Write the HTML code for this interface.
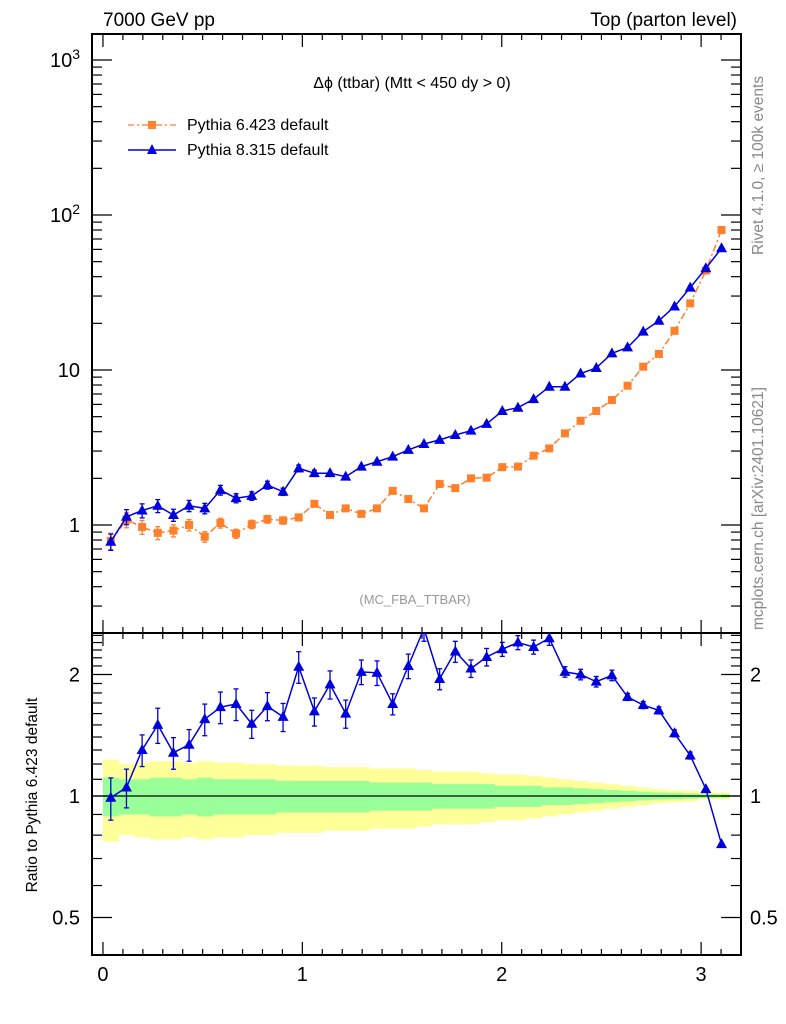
<!DOCTYPE html>
<html><head><meta charset="utf-8">
<style>
html,body{margin:0;padding:0;background:#fff;}
svg{display:block;font-family:"Liberation Sans",sans-serif;}
</style></head>
<body>
<svg id="chart" width="786" height="1024" viewBox="0 0 786 1024" xmlns="http://www.w3.org/2000/svg">
<text x="103" y="26" font-size="19">7000 GeV pp</text>
<text x="737" y="26" font-size="19" text-anchor="end">Top (parton level)</text>
<text x="412" y="88" font-size="16" text-anchor="middle">Δϕ (ttbar) (Mtt &lt; 450 dy &gt; 0)</text>
<text x="415" y="604" font-size="13" fill="#999" text-anchor="middle">(MC_FBA_TTBAR)</text>
<text transform="translate(763,255) rotate(-90)" font-size="15.5" fill="#888">Rivet 4.1.0, ≥ 100k events</text>
<text transform="translate(763,630) rotate(-90)" font-size="15.5" fill="#888">mcplots.cern.ch [arXiv:2401.10621]</text>
<text transform="translate(37,795) rotate(-90)" font-size="15.5" text-anchor="middle">Ratio to Pythia 6.423 default</text>
<g id="legend">
<g>
<line x1="128" y1="125" x2="176" y2="125" stroke="#ff7f2a" stroke-width="1.3" stroke-dasharray="6,3,2,3"/>
<rect x="148" y="121" width="8" height="8" fill="#ff8533"/>
<text x="187" y="130" font-size="16">Pythia 6.423 default</text></g>
<g>
<line x1="128" y1="150" x2="176" y2="150" stroke="#0000dd" stroke-width="1.5"/>
<polygon points="152,144 157,154 147,154" fill="#0000dd"/>
<text x="187" y="155" font-size="16">Pythia 8.315 default</text></g>
</g>
<g id="main"></g>
<g id="ratio"></g>
</svg>
<script>
const nbins = [40];
const pythia6 = [0.79,1.08,0.97,0.89,0.92,1.0,0.84,1.03,0.88,1.01,1.09,1.07,1.12,1.37,1.16,1.28,1.18,1.28,1.66,1.47,1.28,1.84,1.73,2.0,2.02,2.36,2.38,2.80,3.12,3.90,4.70,5.44,6.40,7.92,10.5,12.7,17.9,26.9,43.8,80];
const pythia8 = [0.78,1.13,1.24,1.33,1.16,1.33,1.28,1.68,1.49,1.54,1.81,1.64,2.32,2.16,2.16,2.05,2.38,2.56,2.76,3.05,3.33,3.54,3.81,4.06,4.49,5.44,5.71,6.49,7.8,7.8,9.5,10.3,12.8,14.0,17.7,20.8,25.7,34.0,45.3,61];
const ratioVals = [0.99,1.05,1.30,1.50,1.28,1.34,1.55,1.66,1.69,1.51,1.67,1.57,2.09,1.62,1.89,1.60,2.03,2.02,1.69,2.10,2.6,1.95,2.28,2.07,2.21,2.31,2.40,2.34,2.46,2.03,2.0,1.92,1.99,1.76,1.68,1.63,1.43,1.26,1.04,0.76];
const ratioErr = [0.12,0.11,0.09,0.10,0.09,0.09,0.09,0.09,0.09,0.08,0.08,0.08,0.09,0.08,0.08,0.08,0.07,0.07,0.06,0.07,0.07,0.06,0.06,0.05,0.05,0.04,0.04,0.04,0.04,0.03,0.03,0.03,0.03,0.02,0.02,0.02,0.02,0.02,0.01,0.01];
const bandYellow = [0.23,0.20,0.21,0.22,0.22,0.21,0.22,0.21,0.21,0.20,0.20,0.19,0.19,0.19,0.18,0.18,0.18,0.17,0.17,0.17,0.16,0.15,0.15,0.15,0.14,0.13,0.13,0.12,0.11,0.10,0.09,0.08,0.07,0.06,0.05,0.04,0.035,0.03,0.02,0.02];
const bandGreen = [0.11,0.10,0.10,0.11,0.11,0.10,0.11,0.10,0.10,0.10,0.10,0.09,0.09,0.09,0.09,0.09,0.09,0.08,0.08,0.08,0.08,0.07,0.07,0.07,0.07,0.06,0.06,0.06,0.05,0.05,0.045,0.04,0.035,0.03,0.025,0.02,0.018,0.015,0.012,0.01];
const xTicks = ["0","1","2","3"];
const mainTicks = ["1","10","10²","10³"];

const NS="http://www.w3.org/2000/svg";
const X0=92, X1=741, xmin=-0.055, xmax=3.2;
const MT=34, MB=633, RT=633, RB=955;
function xs(v){return X0+(v-xmin)/(xmax-xmin)*(X1-X0);}
function ym(v){return 525-155*Math.log10(v);}
function yr(v){return 796-121.5*Math.log2(v);}
function el(tag,attrs,parent){const e=document.createElementNS(NS,tag);for(const k in attrs)e.setAttribute(k,attrs[k]);parent.appendChild(e);return e;}
const main=document.getElementById('main'), ratio=document.getElementById('ratio');
const N=nbins[0], w=Math.PI/N;
const cx=i=>(i+0.5)*w;

const clipR=el('clipPath',{id:'cr'},ratio); el('rect',{x:X0,y:RT,width:X1-X0,height:RB-RT},clipR);
const bands=el('g',{'clip-path':'url(#cr)'},ratio);
[[bandYellow,'#ffff99'],[bandGreen,'#99ff99']].forEach(([arr,col],k)=>{
  arr.forEach((b,i)=>{
    const r=el('rect',{x:xs(i*w),y:yr(1+b),width:xs((i+1)*w)-xs(i*w)+0.5,height:yr(1-b)-yr(1+b),fill:col},bands);
    
    
  });
});
el('line',{x1:X0,x2:X1,y1:yr(1),y2:yr(1),stroke:'#000','stroke-width':1.2},ratio);

[[MT,MB],[RT,RB]].forEach(([t,b],k)=>{
  const f=el('rect',{x:X0,y:t,width:X1-X0,height:b-t,fill:'none',stroke:'#000','stroke-width':2},k?ratio:main);
  
  
});
[[MT,MB,main],[RT,RB,ratio]].forEach(([t,b,g])=>{
  for(let v=0;v<=3.2;v+=0.1){
    const major=Math.abs(v-Math.round(v))<1e-6, L=major?13:6;
    const px=xs(v); if(px>X1-1)continue;
    el('line',{x1:px,x2:px,y1:b,y2:b-L,stroke:'#000','stroke-width':1.2},g);
    el('line',{x1:px,x2:px,y1:t,y2:t+L,stroke:'#000','stroke-width':1.2},g);
  }
});
xTicks.forEach((s,i)=>{
  const t=el('text',{x:xs(+s),y:981,'font-size':20,'text-anchor':'middle'},ratio);t.textContent=s;
  
  
});
for(let d=-1;d<=3;d++){for(let m=1;m<10;m++){
  const v=m*Math.pow(10,d), y=ym(v); if(y<MT||y>MB)continue;
  const L=m==1?20:10;
  el('line',{x1:X0,x2:X0+L,y1:y,y2:y,stroke:'#000','stroke-width':1.2},main);
  el('line',{x1:X1,x2:X1-L,y1:y,y2:y,stroke:'#000','stroke-width':1.2},main);
}}
mainTicks.forEach((s,i)=>{
  const t=el('text',{x:80,y:ym(Math.pow(10,i))+7,'font-size':20,'text-anchor':'end'},main);
  if(i<2)t.textContent=s;else{t.textContent='10';const ts=el('tspan',{dy:-8,'font-size':14},t);ts.textContent=String(i);}
  
  
});
for(let v=0.4;v<=2.6;v+=0.1){
  const y=yr(v); if(y<RT||y>RB)continue;
  const major=[0.5,1,2].some(q=>Math.abs(q-v)<1e-6), L=major?20:10;
  el('line',{x1:X0,x2:X0+L,y1:y,y2:y,stroke:'#000','stroke-width':1.2},ratio);
  el('line',{x1:X1,x2:X1-L,y1:y,y2:y,stroke:'#000','stroke-width':1.2},ratio);
}
[['2',2],['1',1],['0.5',0.5]].forEach(([s,v])=>{
  const a=el('text',{x:80,y:yr(v)+7,'font-size':20,'text-anchor':'end'},ratio);a.textContent=s;
  
  
  const b=el('text',{x:750,y:yr(v)+7,'font-size':20},ratio);b.textContent=s;
  
  
});

const clipM=el('clipPath',{id:'cm'},main); el('rect',{x:X0,y:MT,width:X1-X0,height:MB-MT},clipM);
const gm=el('g',{'clip-path':'url(#cm)'},main);
function drawSeries(g,vals,yf,col,dash,marker,name,errRel){
  const pts=vals.map((v,i)=>xs(cx(i)).toFixed(1)+','+yf(v).toFixed(1)).join(' ');
  const l=el('polyline',{points:pts,fill:'none',stroke:col,'stroke-width':1.5},g);
  if(dash)l.setAttribute('stroke-dasharray',dash);
  
  
  vals.forEach((v,i)=>{
    const x=xs(cx(i)), y=yf(v), e=errRel(i,v);
    if(e[0]-e[1]>6){
      el('line',{x1:x,x2:x,y1:e[0],y2:e[1],stroke:col,'stroke-width':1.3},g);
      el('line',{x1:x-2.5,x2:x+2.5,y1:e[0],y2:e[0],stroke:col,'stroke-width':1.3},g);
      el('line',{x1:x-2.5,x2:x+2.5,y1:e[1],y2:e[1],stroke:col,'stroke-width':1.3},g);
    }
    let m;
    if(marker=='sq') m=el('rect',{x:x-4,y:y-4,width:8,height:8,fill:col},g);
    else m=el('polygon',{points:`${x},${y-6} ${x+5.5},${y+4} ${x-5.5},${y+4}`,fill:col},g);
    
    
  });
}
const relErr=(i,v)=>{const r=0.12*Math.pow(0.93,i);return [ym(v*(1-r)),ym(v*(1+r))];};
drawSeries(gm,pythia6,ym,'#ff7f2a','7,3,2,3','sq','pythia6',relErr);
drawSeries(gm,pythia8,ym,'#0000dd',null,'tri','pythia8',relErr);
const gr=el('g',{'clip-path':'url(#cr)'},ratio);
drawSeries(gr,ratioVals,yr,'#0000dd',null,'tri','ratio-pythia8',(i,v)=>[yr(v-ratioErr[i]*v),yr(v+ratioErr[i]*v)]);
</script>
</body></html>
